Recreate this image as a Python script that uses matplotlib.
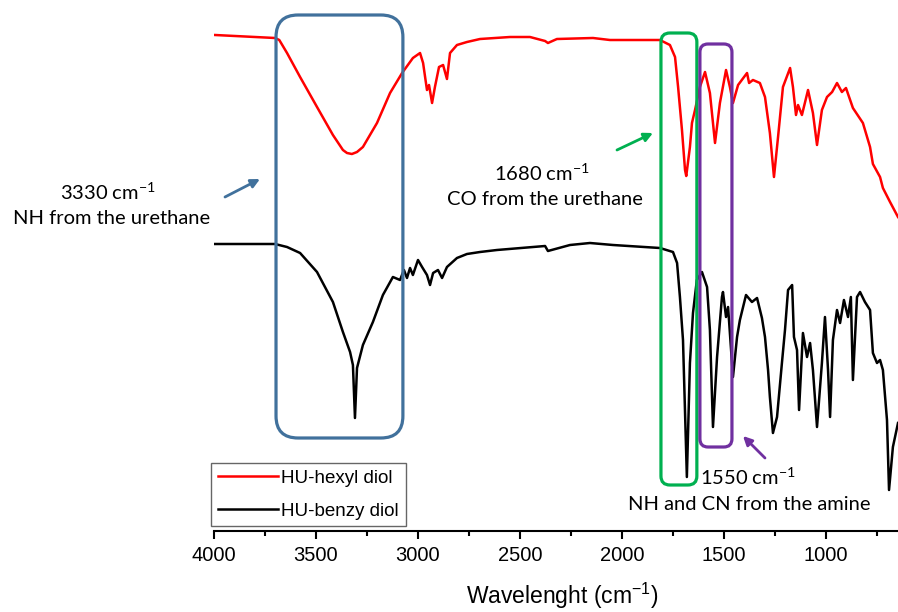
import matplotlib
matplotlib.use('Agg')
import matplotlib.pyplot as plt
from matplotlib.patches import FancyBboxPatch
from matplotlib.ticker import MultipleLocator

# FTIR spectra (wavenumber cm-1, transmittance a.u.)
hexyl_wn = [3995, 3701, 3680, 3642, 3578, 3495, 3417, 3368, 3348, 3324, 3299, 3270,
            3201, 3137, 3078, 3025, 2990, 2975, 2956, 2946, 2931, 2917, 2897, 2877,
            2858, 2843, 2809, 2760, 2696, 2549, 2451, 2377, 2363, 2319, 2142, 2059,
            1814, 1765, 1740, 1725, 1706, 1691, 1685, 1667, 1657, 1642, 1618, 1593,
            1569, 1544, 1520, 1490, 1471, 1456, 1431, 1387, 1377, 1358, 1324, 1299,
            1275, 1255, 1235, 1211, 1176, 1162, 1147, 1137, 1118, 1088, 1064, 1044,
            1020, 995, 970, 946, 922, 902, 868, 819, 784, 770, 735, 721, 686, 647]
hexyl_t = [99.0, 98.4, 98.0, 95.4, 90.6, 84.6, 79.0, 76.0, 75.4, 75.2, 75.6, 76.6,
           81.4, 87.4, 91.4, 94.4, 95.4, 93.4, 88.0, 89.0, 85.4, 88.6, 92.6, 93.0,
           90.2, 95.4, 97.0, 97.6, 98.2, 98.6, 98.6, 97.8, 97.4, 98.2, 98.4, 98.0,
           98.0, 97.0, 94.6, 88.6, 80.0, 72.0, 70.8, 76.6, 81.4, 84.0, 88.6, 91.6,
           87.4, 77.4, 85.4, 92.0, 88.6, 85.4, 89.0, 91.4, 89.4, 90.0, 89.4, 86.6,
           79.4, 70.6, 78.6, 88.6, 92.4, 88.6, 83.0, 85.0, 83.0, 88.0, 83.4, 77.0,
           84.0, 86.6, 87.6, 89.4, 87.6, 88.4, 84.4, 81.4, 76.6, 73.2, 70.6, 68.4,
           65.6, 62.6]

benzy_wn = [3995, 3701, 3642, 3578, 3495, 3417, 3368, 3333, 3319, 3309, 3299, 3270,
            3221, 3172, 3123, 3088, 3069, 3054, 3039, 3025, 3000, 2980, 2956, 2941,
            2926, 2902, 2882, 2858, 2809, 2760, 2696, 2613, 2377, 2363, 2255, 2157,
            2044, 1814, 1750, 1730, 1716, 1701, 1682, 1667, 1652, 1633, 1608, 1583,
            1569, 1554, 1534, 1510, 1505, 1490, 1480, 1456, 1436, 1422, 1392, 1363,
            1338, 1314, 1299, 1284, 1275, 1260, 1240, 1216, 1201, 1186, 1166, 1157,
            1142, 1132, 1113, 1093, 1078, 1064, 1044, 1020, 1005, 990, 980, 966,
            946, 931, 912, 892, 878, 868, 848, 833, 809, 784, 770, 750, 735, 721,
            701, 691, 672, 647]
benzy_t = [57.2, 57.2, 56.6, 55.4, 51.6, 45.6, 39.6, 35.6, 33.0, 22.4, 32.4, 37.0,
           41.6, 47.0, 50.6, 50.0, 52.0, 50.4, 52.4, 51.0, 54.0, 52.6, 51.0, 49.0,
           51.4, 52.0, 50.4, 52.6, 54.4, 55.2, 55.6, 56.0, 56.8, 55.8, 57.0, 57.4,
           57.0, 56.4, 55.6, 53.4, 46.6, 38.0, 10.6, 33.4, 43.4, 50.0, 51.6, 48.6,
           40.0, 20.6, 34.6, 46.6, 47.6, 42.6, 44.6, 30.6, 38.6, 42.0, 47.0, 45.6,
           46.4, 42.4, 38.6, 32.0, 26.6, 19.4, 22.6, 33.4, 40.0, 48.0, 49.0, 38.6,
           36.0, 24.0, 39.4, 34.6, 37.4, 32.0, 20.6, 33.4, 42.6, 32.0, 22.6, 38.0,
           44.0, 41.4, 46.0, 42.6, 46.6, 30.0, 46.6, 47.6, 45.6, 44.0, 35.4, 33.4,
           34.0, 32.0, 22.0, 8.0, 16.6, 21.4]

# highlighted regions: (low wn, high wn, low T, high T, colour, corner radius in wn)
boxes = [
    (3074, 3696, 18.4, 103.0, '#41719c', 108),
    (1633, 1809, 9.0, 99.4, '#00b050', 44),
    (1461, 1618, 16.6, 97.2, '#7030a0', 40),
]

W, H = 898, 612


def fxy(px, py):
    # pixel position (from top left) -> figure fraction
    return px / W, 1 - py / H


plt.rcParams['font.family'] = ['Liberation Sans', 'DejaVu Sans']

fig = plt.figure(figsize=(W / 100, H / 100), dpi=100)
ax = fig.add_axes([214 / W, 81 / H, 684 / W, 531 / H])

ax.plot(hexyl_wn, hexyl_t, color='#ff0000', lw=1.8, label='HU-hexyl diol')
ax.plot(benzy_wn, benzy_t, color='black', lw=1.8, label='HU-benzy diol')

ax.set_xlim(4000, 647)
ax.set_ylim(-0.2, 106)
for s in ['left', 'right', 'top']:
    ax.spines[s].set_visible(False)
ax.spines['bottom'].set_linewidth(1.5)
ax.set_yticks([])
ax.xaxis.set_major_locator(MultipleLocator(500))
ax.xaxis.set_minor_locator(MultipleLocator(250))
ax.tick_params(axis='x', which='major', length=6, width=1.5, labelsize=14.5, pad=5)
ax.tick_params(axis='x', which='minor', length=3.5, width=1.5)

# rounded boxes, aspect corrected so corners look round
asp = (684 / 3353) / 5.0
for x0, x1, y0, y1, c, r in boxes:
    p = FancyBboxPatch((x0, y0), x1 - x0, y1 - y0,
                       boxstyle='round,pad=0,rounding_size=%g' % r,
                       mutation_aspect=asp, fill=False, ec=c, lw=2.3,
                       zorder=5, clip_on=False)
    ax.add_patch(p)

leg = ax.legend(loc='upper left', bbox_to_anchor=fxy(211, 463),
                bbox_transform=fig.transFigure, fancybox=False,
                edgecolor='#404040', fontsize=13.5, handlelength=3.2,
                handletextpad=0.2, labelspacing=0.85, borderpad=0.35,
                borderaxespad=0)
leg.get_frame().set_linewidth(1.0)

# annotations
af = dict(family=['Lato', 'DejaVu Sans'], fontsize=14.5, ha='center', va='center')
sup = ' cm$\\mathregular{^{-1}}$'
fig.text(*fxy(108, 192), '3330' + sup, **af)
fig.text(*fxy(112, 218), 'NH from the urethane', **af)
fig.text(*fxy(542, 173), '1680' + sup, **af)
fig.text(*fxy(545, 200), 'CO from the urethane', **af)
fig.text(*fxy(748, 477), '1550' + sup, **af)
fig.text(*fxy(749, 505), 'NH and CN from the amine', **af)

arrows = [((225, 197), (260, 179), '#41719c'),
          ((617, 150), (653, 133), '#00b050'),
          ((765, 458), (743, 436), '#7030a0')]
for tail, head, c in arrows:
    ax.annotate('', xy=fxy(*head), xytext=fxy(*tail), xycoords='figure fraction',
                textcoords='figure fraction',
                arrowprops=dict(arrowstyle='-|>', color=c, lw=2,
                                mutation_scale=13, shrinkA=0, shrinkB=0))

fig.text(*fxy(562, 596), 'Wavelenght (cm$\\mathregular{^{-1}}$)',
         fontsize=16.5, ha='center', va='center')

fig.savefig('out.png', dpi=100)
